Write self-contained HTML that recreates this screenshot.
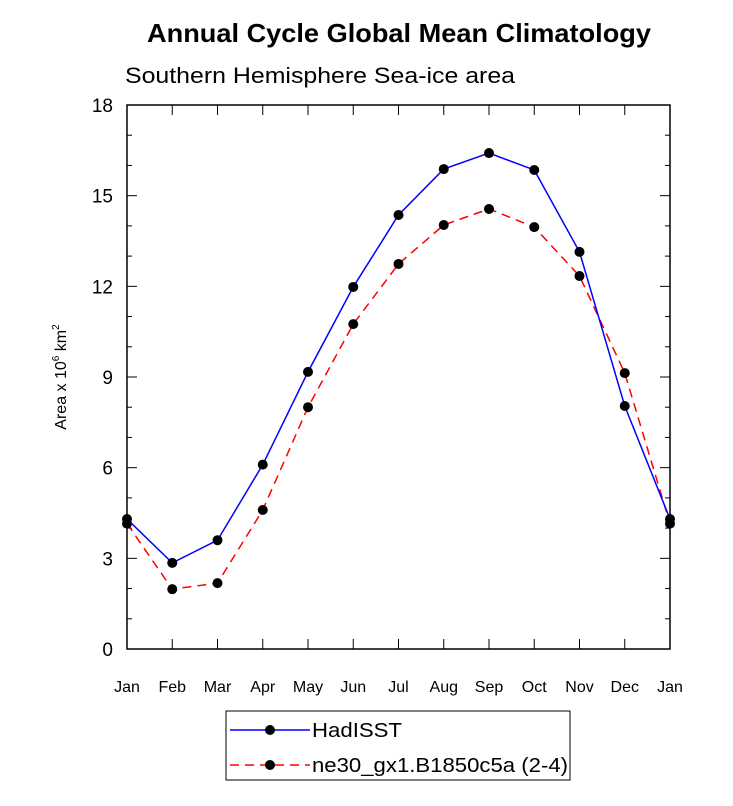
<!DOCTYPE html>
<html><head><meta charset="utf-8"><style>body{margin:0;background:#fff}svg{display:block;font-family:"Liberation Sans",sans-serif}</style></head>
<body>
<svg id="c" width="733" height="806"></svg>
<script>
const months=["Jan","Feb","Mar","Apr","May","Jun","Jul","Aug","Sep","Oct","Nov","Dec","Jan"];
const hadisst=[4.3,2.85,3.6,6.1,9.17,11.98,14.36,15.88,16.41,15.85,13.14,8.04,4.3];
const model=[4.15,1.98,2.18,4.6,8.0,10.75,12.74,14.03,14.56,13.96,12.34,9.13,4.15];
const yTicks=[0,3,6,9,12,15,18];
const NS="http://www.w3.org/2000/svg",svg=document.getElementById('c');
const L=127,R=670,T=105,B=649;
const xs=i=>L+i*(R-L)/12, ys=v=>B-v*(B-T)/18;
function mk(t,a,p){const e=document.createElementNS(NS,t);for(const k in a)e.setAttribute(k,a[k]);(p||svg).appendChild(e);return e;}
let e;
e=mk('text',{x:147,y:42,'font-size':26,'font-weight':'bold',textLength:504,lengthAdjust:'spacingAndGlyphs'});e.textContent="Annual Cycle Global Mean Climatology";


e=mk('text',{x:125,y:83,'font-size':22,textLength:390,lengthAdjust:'spacingAndGlyphs'});e.textContent="Southern Hemisphere Sea-ice area";


e=mk('rect',{x:L,y:T,width:R-L,height:B-T,fill:'none',stroke:'#000','stroke-width':1.5});


for(let v=0;v<=18;v++){const y=ys(v),maj=v%3==0,len=maj?10:5;
 mk('line',{x1:L,x2:L+len,y1:y,y2:y,stroke:'#000'});mk('line',{x1:R,x2:R-len,y1:y,y2:y,stroke:'#000'});}
yTicks.forEach(v=>{e=mk('text',{x:L-14,y:ys(v)+7,'text-anchor':'end','font-size':19});e.textContent=v;
 
 });
months.forEach((m,i)=>{const x=xs(i);mk('line',{x1:x,x2:x,y1:B,y2:B-10,stroke:'#000'});mk('line',{x1:x,x2:x,y1:T,y2:T+10,stroke:'#000'});
 e=mk('text',{x:x,y:B+43,'text-anchor':'middle','font-size':16});e.textContent=m;
 
 });
e=mk('text',{transform:'translate(66,377) rotate(-90)','text-anchor':'middle','font-size':16});
e.innerHTML='Area x 10<tspan font-size="10" dy="-7">6</tspan><tspan dy="7"> km</tspan><tspan font-size="10" dy="-7">2</tspan>';


function series(d,col,dash,name){
 e=mk('polyline',{points:d.map((v,i)=>xs(i)+','+ys(v)).join(' '),fill:'none',stroke:col,'stroke-width':1.5,'stroke-dasharray':dash});
 
 
 d.forEach((v,i)=>{e=mk('circle',{cx:xs(i),cy:ys(v),r:5,fill:'#000'});
  
  });
}
series(model,'#f00','9,6','model');
series(hadisst,'#00f','none','hadisst');
const g=mk('g',{});


mk('rect',{x:226,y:711,width:344,height:69,fill:'#fff',stroke:'#000'},g);
mk('line',{x1:230,x2:310,y1:730,y2:730,stroke:'#00f','stroke-width':1.5},g);mk('circle',{cx:270,cy:730,r:5},g);
mk('line',{x1:230,x2:310,y1:765,y2:765,stroke:'#f00','stroke-width':1.5,'stroke-dasharray':'9,6'},g);mk('circle',{cx:270,cy:765,r:5},g);
e=mk('text',{x:312,y:737,'font-size':20,textLength:90,lengthAdjust:'spacingAndGlyphs'},g);e.textContent="HadISST";


e=mk('text',{x:312,y:772,'font-size':20,textLength:256,lengthAdjust:'spacingAndGlyphs'},g);e.textContent="ne30_gx1.B1850c5a (2-4)";


</script>
</body></html>
